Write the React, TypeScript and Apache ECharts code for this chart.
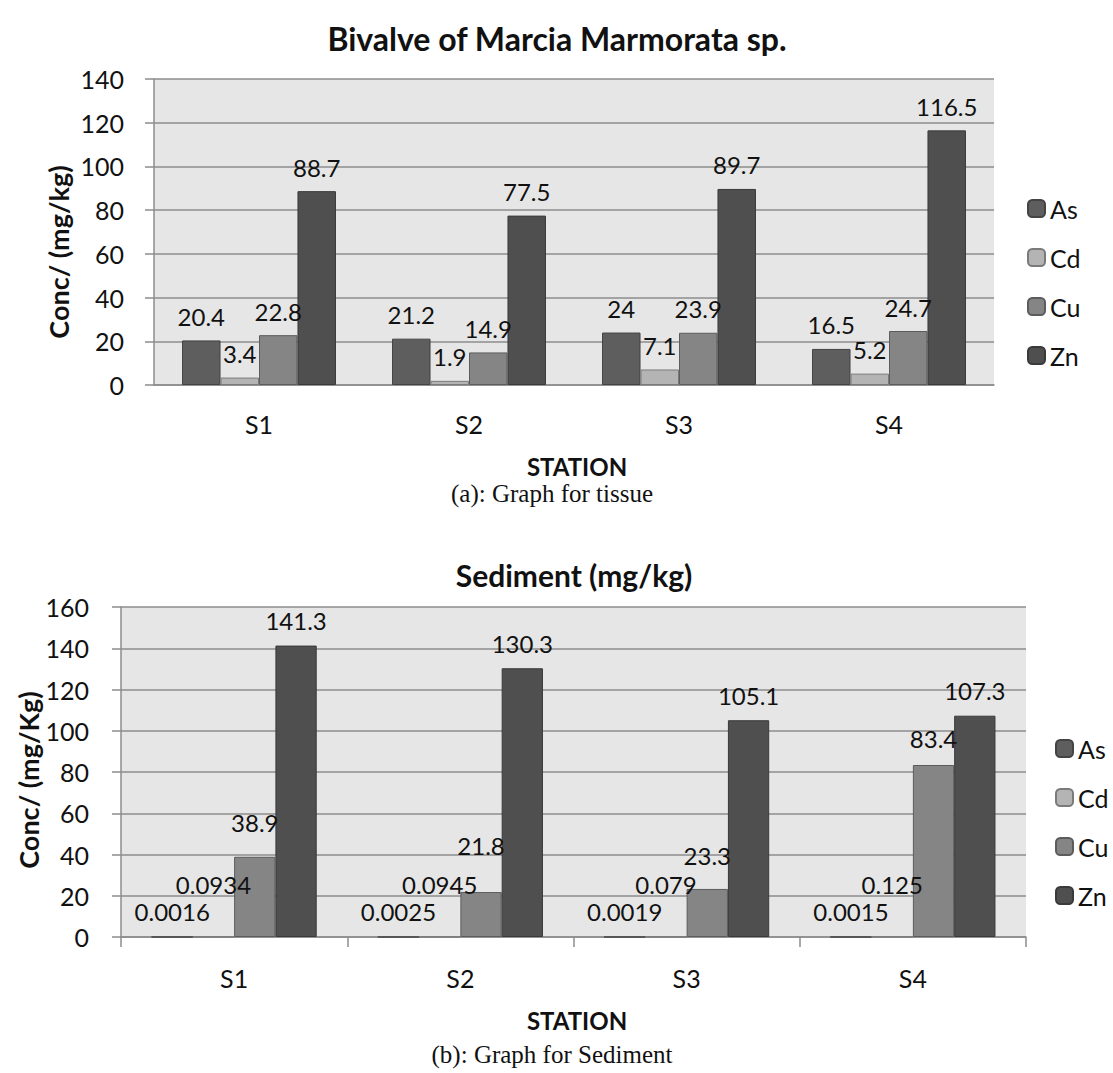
import React, { useEffect, useRef } from "react";
import * as echarts from "echarts";

const stations = ["S1", "S2", "S3", "S4"];
const metals = ["As", "Cd", "Cu", "Zn"];

const tissueAs = [20.4, 21.2, 24, 16.5];
const tissueCd = [3.4, 1.9, 7.1, 5.2];
const tissueCu = [22.8, 14.9, 23.9, 24.7];
const tissueZn = [88.7, 77.5, 89.7, 116.5];

const sedAs = [0.0016, 0.0025, 0.0019, 0.0015];
const sedCd = [0.0934, 0.0945, 0.079, 0.125];
const sedCu = [38.9, 21.8, 23.3, 83.4];
const sedZn = [141.3, 130.3, 105.1, 107.3];

const tissueAxis = { min: 0, max: 140, interval: 20 };
const sedAxis = { min: 0, max: 160, interval: 20 };

const FONT = "Lato";
const fills = ["#5e5e5e", "#b4b4b4", "#858585", "#4f4f4f"];
const borders = ["#444444", "#7a7a7a", "#5c5c5c", "#3a3a3a"];
const sedLabelLift = [13, 40, 0, 13];
const sedCuLift = [22, 35, 21, 14];

export default function App() {
  const ref = useRef<HTMLDivElement>(null);
  useEffect(() => {
    const chart = echarts.init(ref.current!, undefined, { renderer: "svg" });
    const tissue = [tissueAs, tissueCd, tissueCu, tissueZn];
    const sed = [sedAs, sedCd, sedCu, sedZn];
    const labelBase = { show: true, position: "top", fontFamily: FONT, fontSize: 24, color: "#111" };

    const series: any[] = [];
    tissue.forEach((vals, i) => {
      series.push({
        type: "bar",
        name: metals[i],
        xAxisIndex: 0,
        yAxisIndex: 0,
        data: vals,
        barGap: "0%",
        barCategoryGap: "26.7%",
        itemStyle: { color: fills[i], borderColor: borders[i], borderWidth: 1 },
        label: { ...labelBase, distance: 12 },
      });
    });
    sed.forEach((vals, i) => {
      series.push({
        type: "bar",
        name: metals[i],
        xAxisIndex: 1,
        yAxisIndex: 1,
        data:
          i === 2
            ? vals.map((v, k) => ({ value: v, label: { distance: sedCuLift[k] } }))
            : vals,
        barGap: "0%",
        barCategoryGap: "27%",
        itemStyle: { color: fills[i], borderColor: borders[i], borderWidth: 1 },
        label: { ...labelBase, distance: sedLabelLift[i] },
      });
    });

    const gridLine = { lineStyle: { color: "#8c8c8c", width: 1.5 } };
    const axisLine = { show: true, lineStyle: { color: "#8c8c8c", width: 1.5 } };
    const tickText = { fontFamily: FONT, fontSize: 25, color: "#111" };

    const txt = (text: string, x: number, y: number, size: number, opts: any = {}) => ({
      type: "text",
      x,
      y,
      rotation: opts.rotation || 0,
      style: {
        text,
        fontFamily: opts.family || FONT,
        fontSize: size,
        fontWeight: opts.bold ? "bold" : "normal",
        fill: "#111",
        align: "center",
        verticalAlign: "middle",
      },
    });

    const legendBase = {
      orient: "vertical",
      data: metals,
      itemWidth: 17,
      itemHeight: 17,
      itemGap: 24,
      padding: 0,
      selectedMode: false,
      textStyle: { fontFamily: FONT, fontSize: 25, color: "#111", lineHeight: 24 },
    };

    chart.setOption({
      animation: false,
      backgroundColor: "#ffffff",
      grid: [
        { left: 154, top: 79, width: 840, height: 306, show: true, backgroundColor: "#e6e6e6", borderWidth: 0 },
        { left: 121, top: 607, width: 905, height: 330, show: true, backgroundColor: "#e6e6e6", borderWidth: 0 },
      ],
      xAxis: [
        {
          type: "category",
          gridIndex: 0,
          data: stations,
          axisLine,
          axisTick: { show: false },
          axisLabel: { ...tickText, margin: 26 },
        },
        {
          type: "category",
          gridIndex: 1,
          data: stations,
          axisLine,
          axisTick: { show: true, length: 10, lineStyle: { color: "#8c8c8c", width: 1.5 } },
          axisLabel: { ...tickText, margin: 28 },
        },
      ],
      yAxis: [
        {
          type: "value",
          gridIndex: 0,
          ...tissueAxis,
          axisLine,
          axisTick: { show: true, length: 9, lineStyle: { color: "#8c8c8c", width: 1.5 } },
          splitLine: { show: true, ...gridLine },
          axisLabel: { ...tickText, margin: 30 },
        },
        {
          type: "value",
          gridIndex: 1,
          ...sedAxis,
          axisLine,
          axisTick: { show: true, length: 9, lineStyle: { color: "#8c8c8c", width: 1.5 } },
          splitLine: { show: true, ...gridLine },
          axisLabel: { ...tickText, margin: 32 },
        },
      ],
      legend: [
        { ...legendBase, left: 1027, top: 196 },
        { ...legendBase, left: 1055, top: 736 },
      ],
      graphic: [
        txt("Bivalve of Marcia Marmorata sp.", 557, 38, 32, { bold: true }),
        txt("Conc/ (mg/kg)", 58, 252, 27, { bold: true, rotation: Math.PI / 2 }),
        txt("STATION", 577, 466, 24, { bold: true }),
        txt("(a): Graph for tissue", 552, 493, 25, { family: "Liberation Serif" }),
        txt("Sediment (mg/kg)", 574, 575, 30, { bold: true }),
        txt("Conc/ (mg/Kg)", 28, 780, 27, { bold: true, rotation: Math.PI / 2 }),
        txt("STATION", 577, 1020, 24, { bold: true }),
        txt("(b): Graph for Sediment", 552, 1054, 25, { family: "Liberation Serif" }),
      ],
      series,
    });
    return () => chart.dispose();
  }, []);
  return (
    <div
      ref={ref}
      style={{ position: "fixed", left: 0, top: 0, width: "1113px", height: "1073px" }}
    />
  );
}
